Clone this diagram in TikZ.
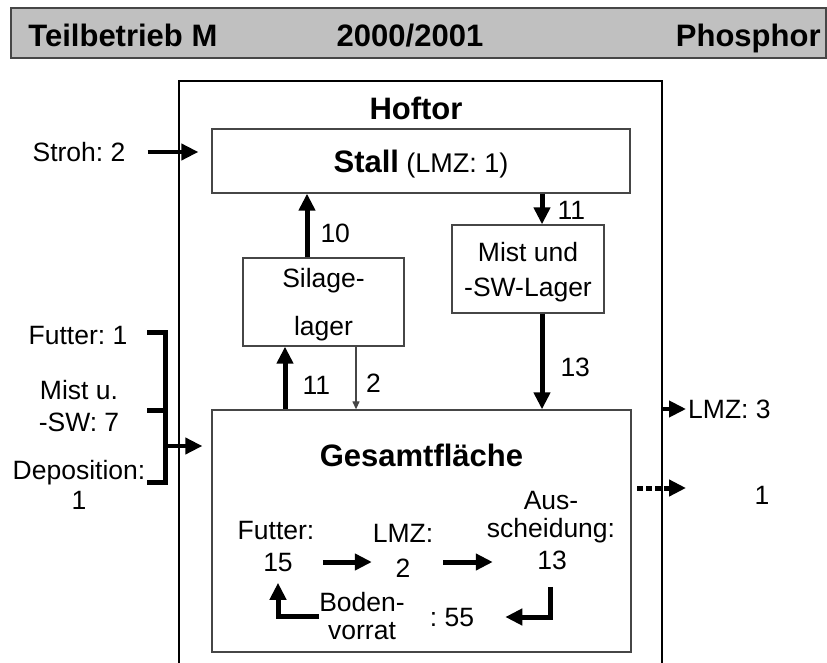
\documentclass[tikz,border=0pt]{standalone}
\usepackage{fontspec}
\setmainfont{Liberation Sans}
\usetikzlibrary{arrows.meta}
\definecolor{hdrgray}{RGB}{192,192,192}
\definecolor{rimgray}{RGB}{70,70,70}
\newcommand{\hdfont}{\fontsize{31}{34}\selectfont\bfseries}
\frenchspacing

\begin{document}
\begin{tikzpicture}[x=1pt,y=-1pt,
    txt/.style={inner sep=0pt,text depth=0pt,align=center,font=\fontsize{26.5}{32}\selectfont},
    hd/.style={inner sep=0pt,text depth=0pt,font=\hdfont},
    box/.style={draw=rimgray,line width=1.3pt,inner sep=0pt,text depth=0pt,align=center,font=\fontsize{26.5}{35}\selectfont},
    arr/.style={line width=5pt,-{Triangle[length=17pt,width=16pt]}},
    arrthin/.style={draw=rimgray,line width=1.2pt,-{Triangle[length=8pt,width=7pt]}},
    dotarr/.style={arr,dash pattern=on 6pt off 3pt},
    brk/.style={line width=5pt,line join=miter}]
      \fill[white] (0,0) rectangle (827,663);
      \useasboundingbox (0,0) rectangle (827,663);
      \node[draw=gray!55!black,fill=hdrgray,line width=1.5pt,minimum width=815pt,minimum height=50pt,inner sep=0pt] (hdr) at (418.5,33) {};
      \node[hd,anchor=west] (betr) at ([xshift=18pt,yshift=-2pt]hdr.west) {Teilbetrieb M};
      \node[hd] (jahr) at ([xshift=-8.5pt,yshift=-2pt]hdr.center) {2000/2001};
      \node[hd,anchor=east] (elem) at ([xshift=-6pt,yshift=-2pt]hdr.east) {Phosphor};
      \draw[line width=1.5pt] (179,670) |- (662,81) -- (662,670);
      \node[hd] (hof) at (416,108) {Hoftor};
      \node[box,minimum width=418pt,minimum height=64pt] (stall) at (421,161) {{\hdfont Stall} {\fontsize{27}{30}\selectfont(LMZ: 1)}};
      \node[box,minimum width=161pt,minimum height=88pt,font=\fontsize{26.5}{48}\selectfont] (silage) at (323.5,302) {Silage-\\lager};
      \node[box,minimum width=152pt,minimum height=88pt] (mist) at (528,269) {Mist und\\-SW-Lager};
      \node[box,minimum width=419pt,minimum height=242pt] (ges) at (421.5,531) {};
      \node[hd] (gestit) at (421.5,455) {Gesamtfläche};
      \node[txt] (stroh) at (79,152) {Stroh: 2};
      \draw[arr,line width=4pt,shorten <=22pt,shorten >=13pt] (stroh.east) -- (stroh.east -| stall.west);
      \coordinate (p10) at ([xshift=-16.5pt]silage.north);
      \draw[arr] (p10) -- (p10 |- stall.south) node[txt,pos=.385,right=11pt] {10};
      \coordinate (p11a) at ([xshift=14pt]mist.north);
      \draw[arr] (p11a |- stall.south) -- (p11a) node[txt,pos=.56,right=13pt] {11};
      \coordinate (p13) at ([xshift=14pt]mist.south);
      \draw[arr] (p13) -- (p13 |- ges.north) node[txt,pos=.56,right=16pt] {13};
      \coordinate (p11b) at ([xshift=-38.5pt]silage.south);
      \draw[arr] (p11b |- ges.north) -- (p11b) node[txt,pos=.39,right=15pt] {11};
      \coordinate (p2) at ([xshift=32.5pt]silage.south);
      \draw[arrthin] (p2) -- (p2 |- ges.north) node[txt,pos=.59,right=9.6pt] {2};
      \node[txt] (futin) at (78,335) {Futter: 1};
      \node[txt] (mistin) at (79,406) {Mist u.\\-SW: 7};
      \node[txt,font=\fontsize{26.5}{30}\selectfont] (depin) at (79,485) {Deposition:\\1};
      \draw[brk] (147,332) -| (165,482) -- (147,482);
      \draw[brk] (147,410) -- (165,410);
      \coordinate (brk) at (165,446);
      \draw[arr,line width=4pt,shorten >=9pt] (brk) -- (brk -| ges.west);
      \node[txt,anchor=west] (lmzr) at (688,409) {LMZ: 3};
      \coordinate (hofr) at (662,409);
      \draw[arr,line width=4pt,shorten >=2pt] (hofr) -- (lmzr.west);
      \node[txt] (verl) at (762,495) {1};
      \coordinate (d0) at (637,488);
      \draw[dotarr,shorten >=2pt] (d0) -- (d0 -| lmzr.west);
      \node[txt] (futl) at (276,530) {Futter:};
      \node[txt] (futv) at (278,562) {15};
      \node[txt] (lmzl) at (403,533) {LMZ:};
      \node[txt] (lmzv) at (403,568) {2};
      \node[txt,font=\fontsize{26.5}{28}\selectfont] (ausl) at (551,514) {Aus-\\scheidung:};
      \node[txt] (ausv) at (552,560) {13};
      \node[txt,font=\fontsize{26.5}{28}\selectfont] (bod) at (362,616) {Boden-\\vorrat};
      \node[txt] (v55) at (452,617) {: 55};
      \draw[arr,shorten <=30pt,shorten >=23.6pt] (futv.east) -- (futv.east -| lmzv.west);
      \draw[arr,shorten <=32.6pt,shorten >=44.3pt] (futv.east -| lmzv.east) -- (futv.east -| ausv.west);
      \draw[arr,shorten <=17.5pt,shorten >=31pt] ([xshift=-2pt]ausv.south) |- (v55.east);
      \draw[arr,shorten >=11.5pt] (bod.west) -| (futv.south);
    \end{tikzpicture}
\end{document}
